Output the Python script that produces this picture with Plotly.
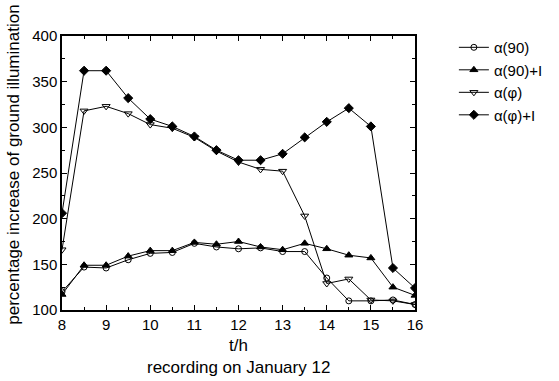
import plotly.graph_objects as go

t = [8, 8.5, 9, 9.5, 10, 10.5, 11, 11.5, 12, 12.5, 13, 13.5, 14, 14.5, 15, 15.5, 16]
a90 = [120, 147, 146, 155, 162, 163, 173, 169, 167, 168, 164, 164, 135, 110, 110, 111, 106]
a90_I = [117, 149, 149, 159, 165, 165, 174, 172, 175, 169, 166, 173, 167, 160, 157, 125, 116]
aphi = [166, 318, 323, 315, 303, 299, 289, 274, 262, 254, 252, 203, 129, 134, 111, 110, 106]
aphi_I = [206, 362, 362, 332, 309, 301, 290, 275, 264, 264, 271, 289, 306, 321, 301, 146, 124]

names = ["α(90)", "α(90)+I", "α(φ)", "α(φ)+I"]
series = [a90, a90_I, aphi, aphi_I]
symbols = ["circle-open", "triangle-up", "triangle-down-open", "diamond"]
sizes = [6, 7, 7, 7]

FONT = "Liberation Sans, Arial"

fig = go.Figure()
for n, s, sym, sz in zip(names, series, symbols, sizes):
    fig.add_trace(go.Scatter(
        x=t, y=s, name=n, mode="lines+markers",
        line=dict(color="black", width=1),
        marker=dict(symbol=sym, size=sz, color="black",
                    line=dict(color="black", width=1)),
    ))

axis_common = dict(
    showline=True, linecolor="black", linewidth=1.5, mirror="ticks",
    ticks="inside", ticklen=5, tickcolor="black", showgrid=False, zeroline=False,
    tickfont=dict(family=FONT, size=15, color="black"),
)

fig.update_layout(
    width=559, height=381,
    margin=dict(l=62, r=143, t=36, b=71),
    plot_bgcolor="white", paper_bgcolor="white",
    font=dict(family=FONT, size=15, color="black"),
    xaxis=dict(range=[8, 16], dtick=1, minor=dict(dtick=0.5, ticks="inside", ticklen=3, tickcolor="black"),
               **axis_common),
    yaxis=dict(range=[100, 400], dtick=50, minor=dict(dtick=25, ticks="inside", ticklen=3, tickcolor="black"),
               **axis_common),
    legend=dict(x=1.107, y=1.018, xanchor="left", yanchor="top", xref="paper", yref="paper",
                bgcolor="rgba(0,0,0,0)", font=dict(size=15), tracegroupgap=0,
                itemwidth=30),
    showlegend=True,
    annotations=[
        dict(text="t/h", x=0.5, y=-0.13, xref="paper", yref="paper", showarrow=False,
             xanchor="center", yanchor="middle", font=dict(size=17)),
        dict(text="recording on January 12", x=0.5, y=-0.21, xref="paper", yref="paper",
             showarrow=False, xanchor="center", yanchor="middle", font=dict(size=17)),
        dict(text="percentage increase of ground illumination", x=-0.136, y=0.53,
             xref="paper", yref="paper", showarrow=False, textangle=-90,
             xanchor="center", yanchor="middle", font=dict(size=17)),
    ],
)

fig.write_html("out.html")
